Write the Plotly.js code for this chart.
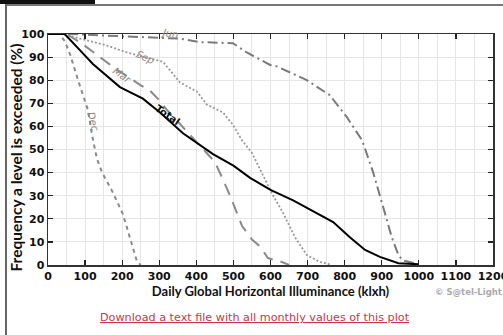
<!DOCTYPE html>
<html><head><meta charset="utf-8">
<script src="https://cdn.plot.ly/plotly-3.0.1.min.js"></script>
<style>
html,body{margin:0;padding:0;background:#fff;}
#chart{width:503px;height:335px;position:absolute;left:0;top:0;}
.deco{position:absolute;}
</style></head>
<body>
<div id="chart"></div>
<div class="deco" style="left:0;top:0;width:95px;height:4px;background:#111;"></div>
<div class="deco" style="left:6px;top:4px;width:497px;height:2px;background:#777;"></div>
<div class="deco" style="left:5px;top:4px;width:2px;height:331px;background:#666;"></div>
<script>
// Data (Daily global horizontal illuminance, klxh vs % exceeded)
const totalX = [0, 45, 86, 121, 194, 256, 302, 364, 445, 500, 545, 600, 661, 769, 814, 855, 895, 945, 1000];
const totalY = [100, 100, 93, 87, 77, 72, 66, 57, 48, 43, 37.7, 32.5, 28, 18.6, 12, 6.5, 3.5, 0.8, 0.3];

const decX = [0, 30, 45, 60, 81, 108, 119, 132, 146, 173, 202, 221, 240, 250];
const decY = [100, 100, 97, 91, 80, 67, 56, 46, 40, 32, 22, 12, 1.5, 0];

const marX = [0, 50, 90, 132, 160, 186, 216, 248, 275, 302, 316, 380, 450, 469, 491, 523, 550, 572, 593, 631, 650];
const marY = [100, 100, 96, 91, 88, 84.5, 81.5, 78, 75.5, 71, 68, 57, 44.6, 38, 30, 17, 11, 8, 3, 1.3, 0];

const sepX = [0, 40, 86, 159, 213, 275, 310, 356, 402, 428, 472, 499, 523, 550, 577, 604, 634, 666, 698, 733, 760];
const sepY = [100, 100, 98, 95, 92, 89.6, 88, 79, 75, 69.5, 66, 60.6, 54, 48.5, 40, 31, 22.5, 12, 4.3, 1.3, 0.3];

const junX = [0, 60, 200, 356, 410, 499, 536, 599, 617, 698, 760, 806, 847, 877, 904, 927, 945, 957, 995, 1000];
const junY = [100, 100, 99, 98, 96.5, 96, 92, 86.6, 86, 80, 73.5, 64, 54, 40, 25, 12, 4.3, 2, 0.5, 0];

const xTicks = [0, 100, 200, 300, 400, 500, 600, 700, 800, 900, 1000, 1100, 1200];
const yTicks = [0, 10, 20, 30, 40, 50, 60, 70, 80, 90, 100];

const gray = '#8a8a8a';
const traces = [
  {x: decX, y: decY, mode: 'lines', line: {color: gray, width: 2, dash: '4px,4px'}},
  {x: marX, y: marY, mode: 'lines', line: {color: gray, width: 2, dash: '12px,8px'}},
  {x: sepX, y: sepY, mode: 'lines', line: {color: '#999', width: 1.8, dash: '2px,2px'}},
  {x: junX, y: junY, mode: 'lines', line: {color: '#7a7a7a', width: 2, dash: '10px,4px,2px,4px'}},
  {x: totalX, y: totalY, mode: 'lines', line: {color: '#000', width: 2}}
];

const tickFont = {family: 'DejaVu Sans', size: 11, color: '#111', weight: 'bold'};
const lblFont = {family: 'DejaVu Sans', size: 10, color: '#888'};

const layout = {
  width: 503, height: 335,
  margin: {l: 48, r: 10, t: 34, b: 70},
  paper_bgcolor: 'rgba(0,0,0,0)', plot_bgcolor: '#fff',
  showlegend: false,
  xaxis: {
    range: [0, 1200], tickvals: xTicks, ticktext: xTicks.map(String),
    ticks: 'inside', ticklen: 5, tickcolor: '#222', tickwidth: 1.2,
    showline: true, linecolor: '#333', linewidth: 1.5, mirror: 'ticks',
    showgrid: true, gridcolor: '#e6e6e6', gridwidth: 1,
    minor: {dtick: 50, showgrid: true, gridcolor: '#e6e6e6', ticks: ''},
    zeroline: false, tickfont: tickFont, fixedrange: true, ticklabeloverflow: 'allow',
    title: {text: '<b>Daily Global Horizontal Illuminance (klxh)</b>', font: {family: 'Lato', size: 13, color: '#111'}, standoff: 4}
  },
  yaxis: {
    range: [0, 100], tickvals: yTicks, ticktext: yTicks.map(String),
    ticks: 'inside', ticklen: 5, tickcolor: '#222', tickwidth: 1.2,
    showline: true, linecolor: '#333', linewidth: 1.5, mirror: 'ticks',
    showgrid: true, gridcolor: '#e6e6e6', gridwidth: 1,
    zeroline: false, tickfont: tickFont, fixedrange: true
  },
  annotations: [
    {x: -0.072, y: 0.465, xref: 'paper', yref: 'paper', xanchor: 'center', yanchor: 'middle', textangle: -90,
     text: '<b>Frequency a level is exceeded (%)</b>', showarrow: false, font: {family: 'Lato', size: 15.5, color: '#111'}},
    {x: 329, y: 99, yshift: 3, text: '<i>Jun</i>', showarrow: false, textangle: 10, font: lblFont, xref: 'x', yref: 'y'},
    {x: 264, y: 90, text: '<i>Sep</i>', showarrow: false, textangle: 25, font: lblFont, xref: 'x', yref: 'y'},
    {x: 200, y: 82, text: '<i>Mar</i>', showarrow: false, textangle: 35, font: lblFont, xref: 'x', yref: 'y'},
    {x: 121, y: 62, text: '<i>Dec</i>', showarrow: false, textangle: 75, font: lblFont, xref: 'x', yref: 'y'},
    {x: 321, y: 65, text: '<b>Total</b>', showarrow: false, textangle: 35, font: {family: 'DejaVu Sans', size: 10, color: '#111'}, xref: 'x', yref: 'y'},
    {x: 0.865, y: -0.117, xref: 'paper', yref: 'paper', xanchor: 'left', yanchor: 'middle', text: '<b>© S@tel-Light</b>', showarrow: false,
     font: {family: 'DejaVu Sans', size: 8.5, color: '#aaa'}},
    {x: 0.465, y: -0.229, xref: 'paper', yref: 'paper', xanchor: 'center', yanchor: 'middle', text: '<u>Download a text file with all monthly values of this plot</u>', showarrow: false,
     font: {family: 'DejaVu Sans', size: 11.2, color: '#c8374a'}}
  ]
};

Plotly.newPlot('chart', traces, layout, {displayModeBar: false, staticPlot: true});
</script>
</body></html>
